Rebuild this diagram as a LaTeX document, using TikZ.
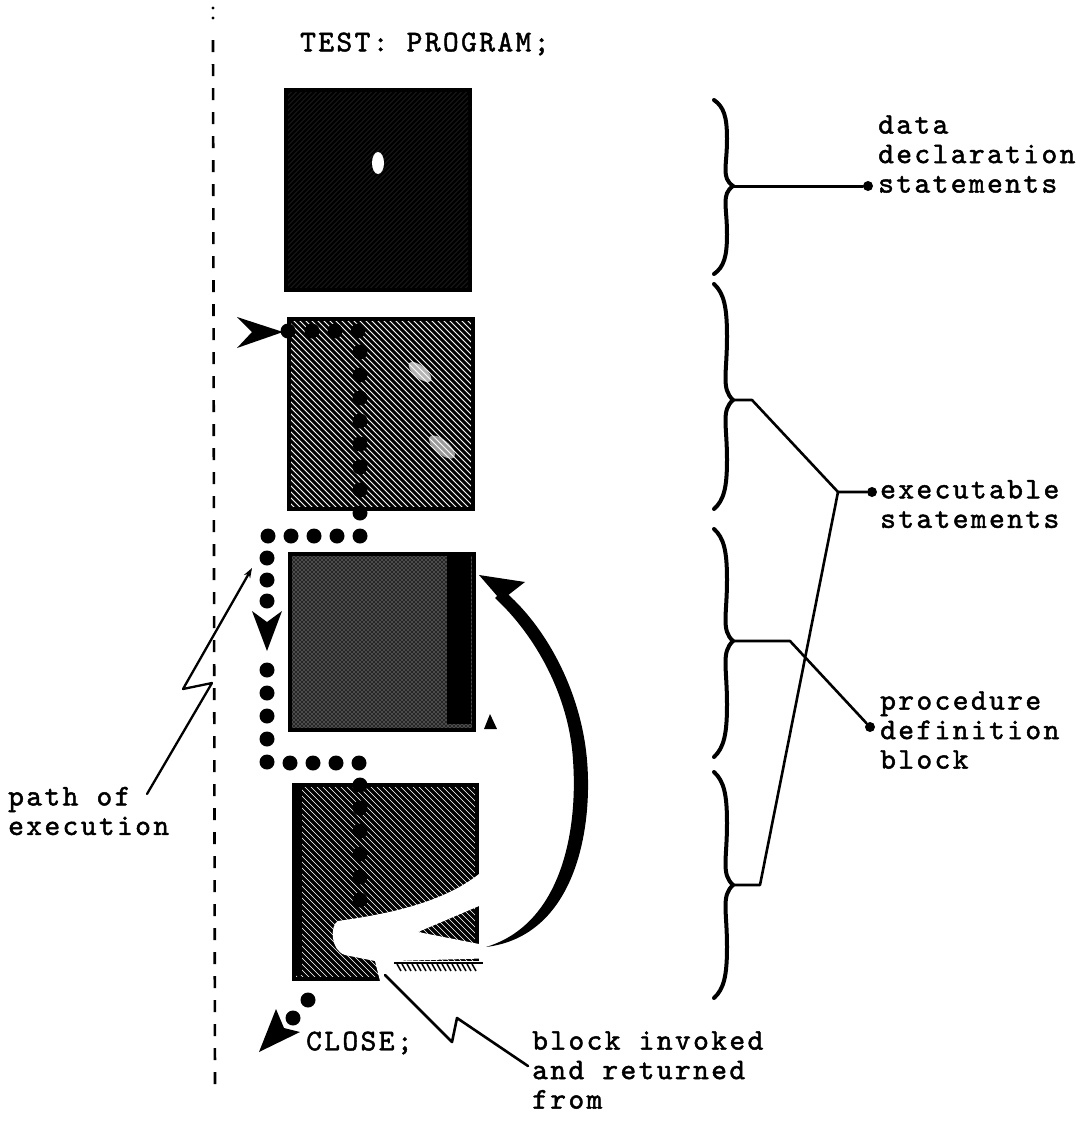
\documentclass[tikz,border=0pt]{standalone}
\usepackage{fontspec}
\newfontfamily\tw{lmmono10-regular}[Extension=.otf,LetterSpace=8,FakeBold=1.6]
\usetikzlibrary{arrows.meta}

\newcommand\mybrace[3]{%
  \draw[brc] (714,#1) .. controls (724,{#1+0.08*(#2-#1)}) and (727,{#1+0.2*(#2-#1)}) .. (727,{#1+0.45*(#2-#1)})
    .. controls (727,{#1+0.78*(#2-#1)}) and (721,{#2-0.1*(#2-#1)}) .. (733,#2)
    .. controls (721,{#2+0.1*(#3-#2)}) and (727,{#2+0.22*(#3-#2)}) .. (727,{#2+0.55*(#3-#2)})
    .. controls (727,{#3-0.2*(#3-#2)}) and (724,{#3-0.08*(#3-#2)}) .. (714,#3);}

\begin{document}
\begin{tikzpicture}[x=1pt,y=-1pt,
  lbl/.style={font=\tw\fontsize{30}{29.5}\selectfont, inner sep=0pt, align=left, anchor=west},
  frame/.style={draw=black, line width=4pt, inner sep=0pt, anchor=north west},
  enddot/.style={circle, fill=black, inner sep=0pt, minimum size=10pt},
  lead/.style={line width=2.6pt, line join=round, line cap=round},
  brc/.style={line width=4pt, line cap=round},
  hatchBS/.style={path picture={\foreach \k in {-300,-294,...,240}{\draw[line width=3pt,black] ([xshift=\k pt]path picture bounding box.north west) -- ++(300pt,-300pt);}}},
  hatchBSd/.style={path picture={\foreach \k in {-300,-294,...,240}{\draw[line width=3.5pt,black] ([xshift=\k pt]path picture bounding box.north west) -- ++(300pt,-300pt);}}},
  hatchFS/.style={path picture={\foreach \k in {-300,-295,...,240}{\draw[line width=2.6pt,black] ([xshift=\k pt]path picture bounding box.south west) -- ++(300pt,300pt);}}},
  hatchX/.style={path picture={\foreach \k in {-300,-296,...,240}{\draw[line width=1.2pt,black!85] ([xshift=\k pt]path picture bounding box.south west) -- ++(300pt,300pt); \draw[line width=1.2pt,black!85] ([xshift=\k pt]path picture bounding box.north west) -- ++(300pt,-300pt);}}}
]
\useasboundingbox (0,0) rectangle (1086,1133);

% dashed margin line
\fill (213,8) circle (1.6pt);
\fill (213,18) circle (1.6pt);
\draw[line width=2.6pt, dash pattern=on 12pt off 12pt] (213,40) -- (215,1085);

% title
\node[lbl] (tp) at (300,44) {TEST: PROGRAM;};

% boxes
\node[frame, fill=black!85, hatchFS, minimum width=184pt, minimum height=200pt] (b1) at (284,88) {};
\fill[white] (378,163) ellipse [x radius=6pt, y radius=11pt];

\node[frame, fill=white, hatchBS, minimum width=184pt, minimum height=190pt] (b2) at (287,317) {};
\fill[white, opacity=0.7, rotate around={-40:(420,372)}] (420,372) ellipse [x radius=14pt, y radius=6pt];
\fill[white, opacity=0.6, rotate around={-40:(442,447)}] (442,447) ellipse [x radius=16pt, y radius=7pt];

\node[frame, fill=black!55, hatchX, minimum width=184pt, minimum height=176pt] (b3) at (288,552) {};
\fill[black] (447,556) rectangle (471,724);
\fill (484,729) -- (490,714) -- (497,729) -- cycle;

\node[frame, fill=white, hatchBSd, minimum width=183pt, minimum height=194pt] (b4) at (292,783) {};
\fill[black] (294,786) rectangle (302,975);
% white return streak through box 4
\fill[white] (338,921) .. controls (380,915) and (440,905) .. (479,874) -- (479,906) -- (418,932) -- (479,944)
  -- (500,944) -- (500,958) -- (394,961) -- (394,981) -- (380,981) -- (375,961) -- (345,955)
  .. controls (330,950) and (330,925) .. (338,921) -- cycle;
\fill[white] (394,961) rectangle (486,982);
\draw[line width=2.5pt] (394,963) -- (483,963);
\foreach \x in {397,402,...,472} \draw[line width=1.5pt] (\x,964) -- ++(4,7);

% path of execution (dots)
\fill (283,332) -- (237,317) -- (252,332) -- (237,348) -- cycle;
\foreach \x in {288,312,335,358} \fill (\x,331) circle (7.5pt);
\foreach \y in {352,375,398,421,444,467,490,513} \fill (360,\y) circle (7.5pt);
\foreach \x in {268,291,314,337,360} \fill (\x,536) circle (7.5pt);
\fill (267,651) -- (252,611) -- (267,622) -- (282,611) -- cycle;
\foreach \y in {558,580} \fill (267,\y) circle (7.5pt);
\fill[white] (267,601) circle (10pt);
\fill (267,601) circle (7.5pt);
\foreach \y in {670,693,716,739,762} \fill (267,\y) circle (7.5pt);
\foreach \x in {290,313,336,359} \fill (\x,763) circle (7.5pt);
\foreach \y in {785,808,831,854,877,900} \fill (360,\y) circle (7.5pt);
\fill (308,1000) circle (7.5pt);
\fill (259,1052) -- (276,1009) -- (284,1028) -- (300,1032) -- cycle;
\fill[white] (293,1018) circle (10.5pt);
\fill (293,1018) circle (7.5pt);

% invocation / return arrow
\fill (486,947) .. controls (575,936) and (593,830) .. (587,760) .. controls (581,690) and (545,625) .. (503,590)
  -- (495,598) .. controls (535,635) and (569,695) .. (573,760) .. controls (578,830) and (562,924) .. (486,947) -- cycle;
\fill (479,575) -- (525,582) -- (507,596) -- (511,612) -- cycle;

% CLOSE
\node[lbl] (cl) at (306,1043) {CLOSE;};

% labels left and bottom
\node[lbl] (pe) at (8,811) {path of\\execution};
\coordinate (pe1) at (147,794);
\coordinate (pe2) at (212,683);
\coordinate (pe3) at (183,689);
\coordinate (pe4) at (252,568);
\draw[lead, line width=2.3pt, -{Stealth[length=10pt,width=7pt]}] (pe1) -- (pe2) -- (pe3) -- (pe4);

\node[lbl] (bi) at (532,1070) {block invoked\\and returned\\from};
\coordinate (bi1) at (385,975);
\coordinate (bi2) at (452,1042);
\coordinate (bi3) at (457,1018);
\coordinate (bi4) at (528,1066);
\draw[lead] (bi1) -- (bi2) -- (bi3) -- (bi4);

% braces
\mybrace{100}{186}{274}
\mybrace{284}{400}{509}
\mybrace{529}{641}{757}
\mybrace{772}{885}{998}

% right labels
\node[lbl] (dd) at (878,154) {data\\declaration\\statements};
\node[lbl] (ex) at (880,504) {executable\\statements};
\node[lbl] (pd) at (880,730) {procedure\\definition\\block};
\node[enddot] (ddot) at (868,186) {};
\node[enddot] (edot) at (872,492) {};
\node[enddot] (pdot) at (870,727) {};
\coordinate (t1) at (733,186);
\coordinate (t2) at (733,400);
\coordinate (t3) at (733,641);
\coordinate (t4) at (733,885);
\coordinate (j) at (838,492);
\draw[lead, line width=3pt] (t1) -- (ddot);
\draw[lead] (t2) -- (752,400) -- (j) -- (edot);
\draw[lead] (j) -- (760,885) -- (t4);
\draw[lead] (t3) -- (790,641) -- (pdot);
\end{tikzpicture}
\end{document}
